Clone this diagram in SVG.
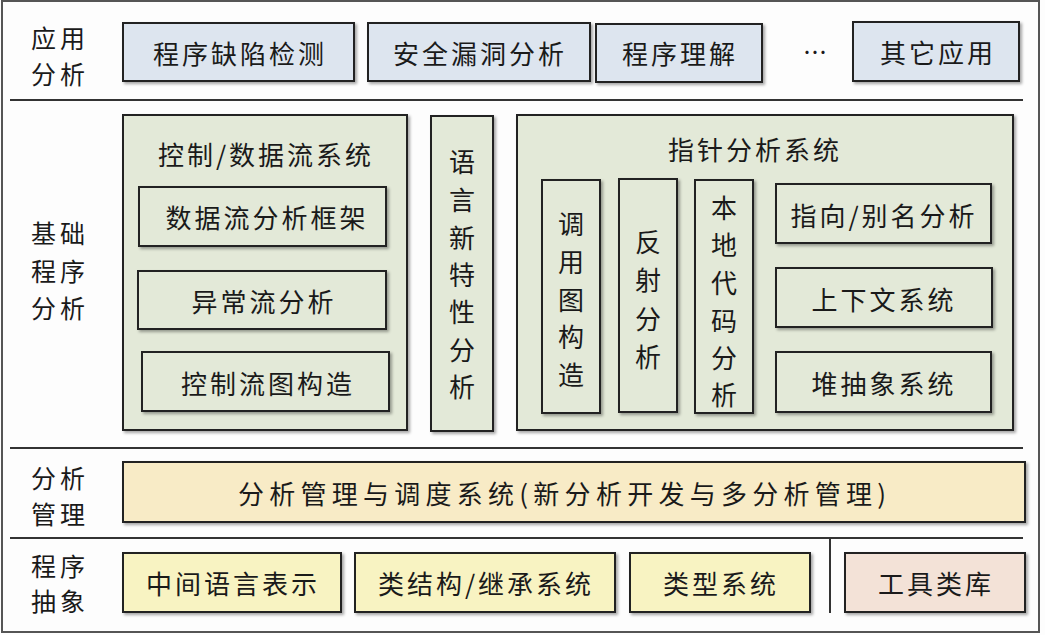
<svg xmlns="http://www.w3.org/2000/svg" width="1045" height="635" viewBox="0 0 1045 635">
<defs>
<filter id="sh" x="-10%" y="-10%" width="130%" height="130%">
<feDropShadow dx="2" dy="2" stdDeviation="1.5" flood-color="#000" flood-opacity="0.35"/>
</filter>
<style>
text{font-family:"Noto Sans CJK SC","Noto Sans",sans-serif;fill:#1a1a1a;dominant-baseline:central}
.lbl{font-size:25px;letter-spacing:4px}
.t{font-size:26px;text-anchor:middle;letter-spacing:3px}
.v{font-size:26px;text-anchor:middle}
.box{stroke:#222;stroke-width:2;filter:url(#sh)}
.blue{fill:#dde5ef}
.green{fill:#e3e9d8}
.beige{fill:#f8ebc6}
.yellow{fill:#f8f3c2}
.pink{fill:#f3e2d7}
.sep{stroke:#333;stroke-width:2;fill:none}
</style>
</defs>
<rect x="0" y="0" width="1045" height="635" fill="#fdfdfd"/>
<rect x="2" y="1" width="1037" height="631" fill="none" stroke="#555" stroke-width="2"/>

<g id="separators">
<line class="sep" x1="10" y1="100" x2="1023" y2="100"/>
<line class="sep" x1="10" y1="448" x2="1023" y2="448"/>
<line class="sep" x1="10" y1="538" x2="1023" y2="538"/>
<line class="sep" x1="830" y1="538" x2="830" y2="613"/>
</g>

<g id="layer-labels">
<text class="lbl" x="31" y="37">应用</text>
<text class="lbl" x="31" y="73">分析</text>
<text class="lbl" x="31" y="232">基础</text>
<text class="lbl" x="31" y="270">程序</text>
<text class="lbl" x="31" y="307">分析</text>
<text class="lbl" x="31" y="477">分析</text>
<text class="lbl" x="31" y="513">管理</text>
<text class="lbl" x="31" y="565">程序</text>
<text class="lbl" x="31" y="600">抽象</text>
</g>

<g id="app-defect"><rect class="box blue" x="123" y="23" width="231" height="58"/><text class="t" x="240" y="52">程序缺陷检测</text></g>
<g id="app-vuln"><rect class="box blue" x="368" y="23" width="222" height="58"/><text class="t" x="480" y="52">安全漏洞分析</text></g>
<g id="app-understand"><rect class="box blue" x="596" y="24" width="166" height="58"/><text class="t" x="680" y="52">程序理解</text></g>
<g id="app-dots"><text x="815" y="50" style="font-size:24px;text-anchor:middle">…</text></g>
<g id="app-other"><rect class="box blue" x="853" y="22" width="166" height="59"/><text class="t" x="938" y="51">其它应用</text></g>

<g id="cdf-system">
<rect class="box green" x="123" y="115" width="284" height="315"/>
<text class="t" x="266" y="153">控制/数据流系统</text>
</g>
<g id="dataflow-framework"><rect class="box green" x="139" y="187" width="247" height="59"/><text class="t" x="267" y="216">数据流分析框架</text></g>
<g id="exception-flow"><rect class="box green" x="138" y="271" width="248" height="58"/><text class="t" x="264" y="300">异常流分析</text></g>
<g id="cfg-build"><rect class="box green" x="142" y="352" width="247" height="59"/><text class="t" x="268" y="382">控制流图构造</text></g>

<g id="lang-feature">
<rect class="box green" x="431" y="116" width="62" height="315"/>
<text class="v" x="462"><tspan x="462" y="160">语</tspan><tspan x="462" y="198">言</tspan><tspan x="462" y="236">新</tspan><tspan x="462" y="273">特</tspan><tspan x="462" y="310">性</tspan><tspan x="462" y="348">分</tspan><tspan x="462" y="385">析</tspan></text>
</g>

<g id="pointer-system">
<rect class="box green" x="517" y="115" width="496" height="315"/>
<text class="t" x="755" y="148">指针分析系统</text>
</g>
<g id="callgraph"><rect class="box green" x="542" y="180" width="58" height="233"/>
<text class="v"><tspan x="571" y="222">调</tspan><tspan x="571" y="260">用</tspan><tspan x="571" y="298">图</tspan><tspan x="571" y="335">构</tspan><tspan x="571" y="373">造</tspan></text></g>
<g id="reflection"><rect class="box green" x="619" y="179" width="58" height="233"/>
<text class="v"><tspan x="648" y="240">反</tspan><tspan x="648" y="278">射</tspan><tspan x="648" y="317">分</tspan><tspan x="648" y="355">析</tspan></text></g>
<g id="native-code"><rect class="box green" x="695" y="180" width="58" height="233"/>
<text class="v"><tspan x="724" y="206">本</tspan><tspan x="724" y="243">地</tspan><tspan x="724" y="281">代</tspan><tspan x="724" y="319">码</tspan><tspan x="724" y="356">分</tspan><tspan x="724" y="393">析</tspan></text></g>
<g id="points-to"><rect class="box green" x="776" y="184" width="215" height="59"/><text class="t" x="884" y="214">指向/别名分析</text></g>
<g id="context"><rect class="box green" x="776" y="268" width="216" height="59"/><text class="t" x="884" y="298">上下文系统</text></g>
<g id="heap-abs"><rect class="box green" x="776" y="352" width="215" height="60"/><text class="t" x="884" y="382">堆抽象系统</text></g>

<g id="analysis-mgmt"><rect class="box beige" x="123" y="462" width="902" height="60"/>
<text x="562" y="492" style="font-size:26px;text-anchor:middle" textLength="648" lengthAdjust="spacing">分析管理与调度系统(新分析开发与多分析管理)</text></g>

<g id="ir"><rect class="box yellow" x="123" y="553" width="218" height="59"/><text class="t" x="233" y="582">中间语言表示</text></g>
<g id="class-hier"><rect class="box yellow" x="355" y="553" width="260" height="59"/><text class="t" x="486" y="582">类结构/继承系统</text></g>
<g id="type-system"><rect class="box yellow" x="630" y="553" width="180" height="59"/><text class="t" x="721" y="582">类型系统</text></g>
<g id="tool-lib"><rect class="box pink" x="845" y="553" width="180" height="59"/><text class="t" x="936" y="582">工具类库</text></g>
</svg>
